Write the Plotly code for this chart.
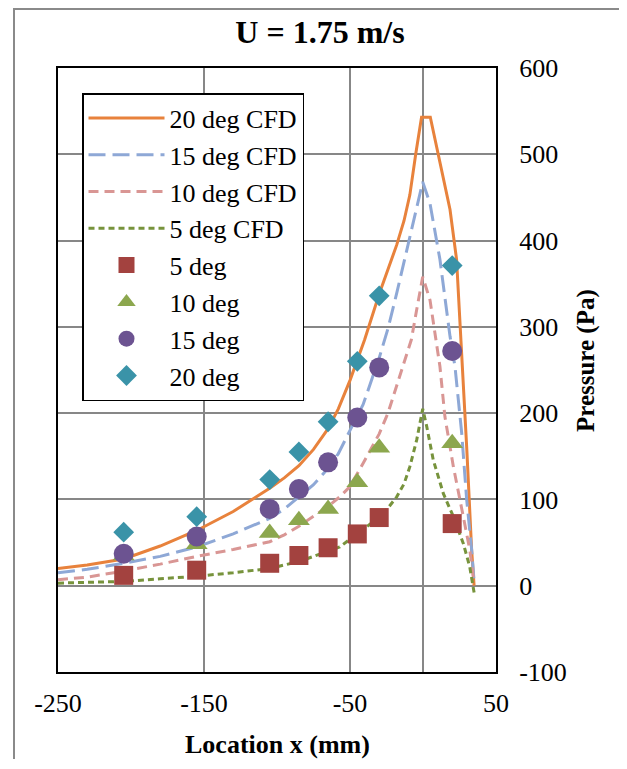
import plotly.graph_objects as go

# ---- CFD curves ----
cfd20_x = [-250, -230, -205, -180, -155, -130, -105, -95, -85, -75, -65, -58, -50, -40, -30, -24, -18, -13, -9, -5, -1, 5, 9.4, 14, 18.5, 23, 26.5, 30, 33.3, 35]
cfd20_y = [20, 24, 31, 46, 64, 86, 113, 125, 139, 158, 182, 205, 238, 285, 338, 366, 395, 423, 453, 500, 543, 543, 507, 472, 436, 378, 273, 158, 42, 0]

cfd15_x = [-250, -230, -205, -180, -155, -130, -105, -95, -85, -75, -65, -58, -50, -41, -30, -24, -18, -12, -6.6, -0.2, 4.8, 11.6, 18.5, 21.9, 26.5, 29.9, 33.3, 35]
cfd15_y = [15, 19, 26, 34, 45, 60, 78, 89, 103, 117, 136, 153, 180, 210, 264, 298, 339, 383, 420, 468, 443, 378, 289, 254, 177, 100, 42, 5]

cfd10_x = [-250, -230, -205, -180, -155, -130, -105, -95, -85, -75, -65, -57, -50, -41, -30, -24, -18, -12, -8, -4.3, -0.2, 4.8, 9.4, 11.6, 15, 20.8, 27.6, 32, 35]
cfd10_y = [7, 10, 17, 25, 34, 42, 51, 59, 69, 80, 92, 103, 115, 142, 176, 200, 231, 262, 285, 320, 358, 331, 281, 254, 196, 138, 80, 42, 3]

cfd5_x = [-250, -230, -205, -180, -155, -130, -105, -95, -85, -75, -65, -57, -50, -41, -30, -24, -18, -13, -9, -4.3, -0.2, 2.5, 7, 13.9, 20.8, 27.6, 32, 35]
cfd5_y = [3, 4, 5, 8, 11, 15, 20, 24, 28, 34, 40, 45, 54, 65, 80, 90, 103, 118, 138, 169, 205, 185, 146, 107, 80, 49, 22, -8]

# ---- experimental points ----
exp_x = [-205, -155, -105, -85, -65, -45, -30, 20]
exp5 = [12, 18, 26, 35, 44, 60, 79, 72]
exp10 = [35, 48, 61, 76, 89, 120, 160, 165]
exp15 = [37, 57, 89, 112, 143, 195, 253, 272]
exp20 = [62, 80, 123, 155, 190, 260, 336, 371]

x_ticks = [-250, -150, -50, 50]
y_ticks = [-100, 0, 100, 200, 300, 400, 500, 600]

FONT = "Liberation Serif"

fig = go.Figure()

lines = [
    ("20 deg CFD", cfd20_x, cfd20_y, "#E8823C", "solid"),
    ("15 deg CFD", cfd15_x, cfd15_y, "#8EA8D6", "17px,7px"),
    ("10 deg CFD", cfd10_x, cfd10_y, "#D99694", "10px,6px"),
    ("5 deg CFD", cfd5_x, cfd5_y, "#77933C", "6px,4px"),
]
for name, xs, ys, col, dash in lines:
    fig.add_trace(go.Scatter(x=xs, y=ys, mode="lines", name=name,
                             line=dict(color=col, width=3, dash=dash)))

pts = [
    ("5 deg", exp5, "#A3423F", "square", 19),
    ("10 deg", exp10, "#8CA74E", "triangle-up", 19),
    ("15 deg", exp15, "#6C5391", "circle", 20),
    ("20 deg", exp20, "#3A93A8", "diamond", 16),
]
for name, ys, col, sym, sz in pts:
    fig.add_trace(go.Scatter(x=exp_x, y=ys, mode="markers", name=name,
                             marker=dict(color=col, symbol=sym, size=sz, line=dict(width=0))))

# page has an 8px body margin, so the figure is offset by 8px and made smaller
W, H = 619, 751
L, T, R = 50, 60, 131
PW = W - L - R  # 438
PH = 604
B = H - T - PH

fig.update_layout(
    width=W, height=H,
    margin=dict(l=L, r=R, t=T, b=B, autoexpand=False),
    paper_bgcolor="white", plot_bgcolor="white",
    font=dict(family=FONT, size=26, color="black"),
    title=dict(text="<b>U = 1.75 m/s</b>", x=312 / W, xref="container", xanchor="center",
               y=1 - 24 / H, yref="container", yanchor="middle",
               font=dict(family=FONT, size=32, color="black")),
    showlegend=True,
    legend=dict(x=0.0548, y=(PH - (93 - 8 - T)) / PH, xanchor="left", yanchor="top",
                bgcolor="white", bordercolor="black", borderwidth=1.5,
                font=dict(family=FONT, size=26, color="black"),
                itemwidth=76, tracegroupgap=0),
)

fig.update_xaxes(range=[-250, 50], tickmode="array", tickvals=x_ticks,
                 ticktext=[str(v) for v in x_ticks],
                 showgrid=True, gridcolor="#878787", gridwidth=2,
                 zeroline=True, zerolinecolor="#878787", zerolinewidth=2,
                 showline=True, linecolor="black", linewidth=2, mirror=True,
                 ticks="", ticklabelstandoff=7, automargin=False,
                 tickfont=dict(family=FONT, size=26))

fig.update_yaxes(range=[-100, 600], tickmode="array", tickvals=y_ticks,
                 ticktext=[str(v) for v in y_ticks], side="right",
                 showgrid=True, gridcolor="#878787", gridwidth=2,
                 zeroline=True, zerolinecolor="#878787", zerolinewidth=2,
                 showline=True, linecolor="black", linewidth=2, mirror=True,
                 ticks="", ticklabelstandoff=16, automargin=False,
                 tickfont=dict(family=FONT, size=26))

# axis titles
fig.add_annotation(text="<b>Location x (mm)</b>", xref="paper", yref="paper",
                   x=0.5, y=(PH - (736 - T)) / PH, xanchor="center", yanchor="middle",
                   showarrow=False, font=dict(family=FONT, size=26, color="black"))
fig.add_annotation(text="<b>Pressure (Pa)</b>", xref="paper", yref="paper",
                   x=(578 - L) / PW, y=(PH - (353 - T)) / PH, xanchor="center", yanchor="middle",
                   textangle=-90, showarrow=False, font=dict(family=FONT, size=25, color="black"))

# outer chart frame
fig.add_shape(type="rect", xref="paper", yref="paper",
              x0=(6 - L) / PW, x1=(616 - L) / PW,
              y0=-0.3, y1=(PH + T - 1) / PH,
              line=dict(color="#8A8A8A", width=2), fillcolor="rgba(0,0,0,0)", layer="above")

fig.write_html("out.html")
